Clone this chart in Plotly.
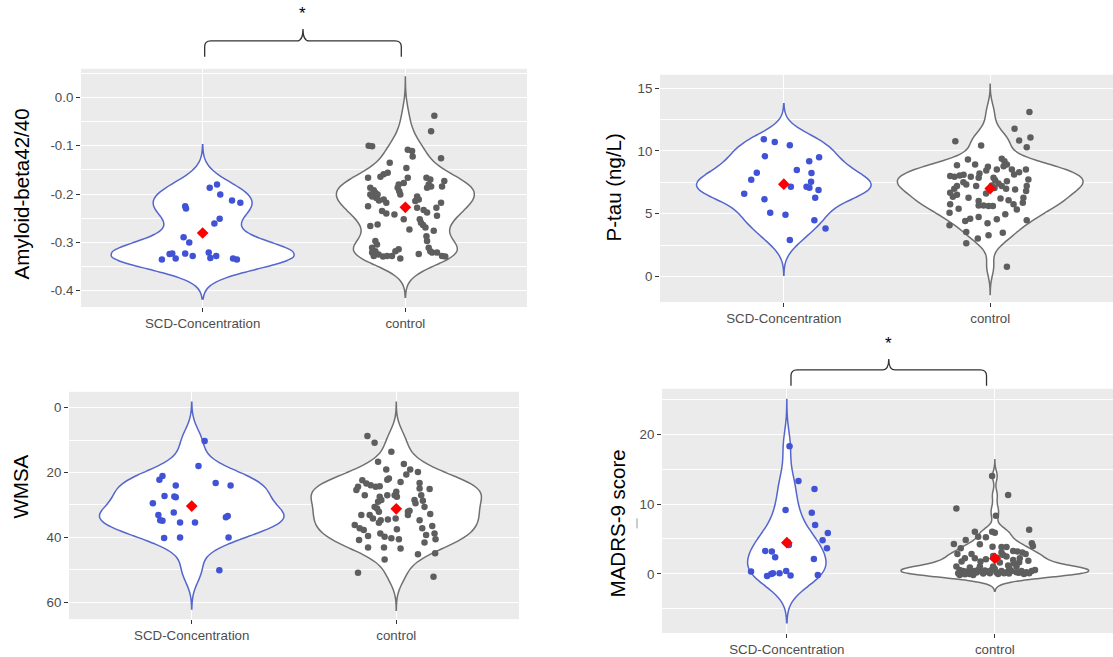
import numpy as np
import plotly.graph_objects as go

W, H = 1113, 657
categories = ["SCD-Concentration", "control"]

# ---------------- Panel 1: Amyloid-beta42/40 ----------------
amyloid_scd = [-0.335, -0.324, -0.323, -0.333, -0.323, -0.328, -0.289, -0.300, -0.225, -0.230,
               -0.187, -0.180, -0.201, -0.213, -0.218, -0.251, -0.261, -0.321, -0.332, -0.328,
               -0.333, -0.335]
amyloid_scd_jit = [-0.201, -0.163, -0.150, -0.133, -0.086, -0.049, -0.094, -0.066, -0.086, -0.082,
                   0.035, 0.071, 0.087, 0.145, 0.186, 0.084, 0.058, 0.030, 0.038, 0.067,
                   0.150, 0.169]
amyloid_ctrl = [-0.038, -0.070, -0.100, -0.101, -0.108, -0.111, -0.122, -0.126, -0.135, -0.146,
                -0.159, -0.164, -0.156, -0.166, -0.166, -0.180, -0.187, -0.194, -0.201, -0.177,
                -0.166, -0.170, -0.180, -0.184, -0.187, -0.173, -0.184, -0.187, -0.192, -0.197,
                -0.201, -0.201, -0.208, -0.213, -0.205, -0.211, -0.218, -0.225, -0.205, -0.211,
                -0.214, -0.218, -0.228, -0.228, -0.233, -0.238, -0.235, -0.240, -0.242, -0.252,
                -0.245, -0.252, -0.259, -0.264, -0.269, -0.263, -0.266, -0.273, -0.276, -0.287,
                -0.297, -0.304, -0.297, -0.311, -0.318, -0.325, -0.329, -0.321, -0.328, -0.318,
                -0.314, -0.328, -0.333, -0.328, -0.311, -0.318, -0.321, -0.324, -0.328, -0.329,
                -0.321]
amyloid_ctrl_jit = [0.143, 0.127, -0.181, -0.164, 0.012, 0.033, 0.036, 0.176, -0.077, 0.005,
                    -0.107, -0.123, -0.087, -0.184, 0.012, -0.033, -0.038, -0.030, -0.025, -0.008,
                    0.104, 0.123, 0.115, 0.127, 0.107, 0.192, 0.181, -0.173, -0.156, -0.148,
                    -0.137, -0.173, -0.143, -0.130, -0.164, -0.107, -0.094, -0.184, 0.058, 0.066,
                    0.049, 0.176, 0.153, 0.058, 0.090, 0.107, -0.115, -0.094, -0.054, -0.008,
                    0.156, 0.071, 0.077, 0.087, 0.099, -0.137, -0.173, 0.020, 0.140, 0.104,
                    -0.148, -0.140, 0.107, -0.164, -0.148, -0.132, -0.110, -0.164, -0.156, -0.049,
                    -0.033, -0.066, -0.025, -0.090, 0.115, 0.123, 0.132, 0.066, 0.181, 0.197,
                    0.156]
amyloid_ticks = [0.0, -0.1, -0.2, -0.3, -0.4]
amyloid_ticktext = ["0.0", "-0.1", "-0.2", "-0.3", "-0.4"]

# ---------------- Panel 2: P-tau ----------------
ptau_scd = [10.93, 10.71, 10.45, 9.58, 9.50, 9.18, 8.47, 8.25, 8.23, 7.70, 7.54, 7.14, 7.14,
            7.06, 6.88, 6.59, 6.27, 6.14, 5.08, 4.92, 4.47, 3.81, 2.91]
ptau_scd_jit = [-0.097, -0.044, 0.029, -0.092, 0.171, 0.123, 0.063, -0.131, 0.134, -0.158, 0.132,
                0.034, 0.110, 0.124, 0.168, -0.192, 0.152, -0.094, -0.066, 0.008, 0.148, 0.202, 0.029]
ptau_ctrl = [13.10, 11.77, 10.82, 11.06, 10.29, 10.77, 10.42, 9.31, 9.37, 9.18, 8.92, 8.78, 8.86,
             8.92, 8.73, 8.44, 8.52, 8.52, 8.12, 8.52, 7.99, 7.94, 8.04, 8.10, 7.94, 8.20, 7.86,
             7.86, 7.67, 7.59, 7.72, 7.20, 6.98, 6.67, 6.35, 6.51, 7.33, 7.20, 7.25, 7.04, 7.41,
             7.20, 6.98, 6.93, 7.20, 6.80, 6.27, 6.01, 5.66, 5.66, 5.61, 5.61, 6.06, 5.74, 6.27,
             5.87, 5.74, 5.08, 5.40, 4.95, 5.34, 4.42, 4.60, 4.74, 4.55, 4.23, 4.47, 4.07, 3.54,
             3.02, 3.28, 3.49, 2.65, 0.77, 6.60, 7.50, 6.20, 8.30]
ptau_ctrl_jit = [0.190, 0.118, 0.140, 0.195, 0.177, -0.169, -0.044, -0.108, 0.056, 0.069, 0.081,
                 0.065, -0.161, -0.073, -0.011, -0.019, 0.032, 0.105, 0.116, 0.173, -0.194, -0.173,
                 -0.148, -0.129, -0.094, -0.052, -0.056, 0.016, 0.024, 0.081, 0.185, -0.161, -0.174,
                 -0.194, -0.181, -0.161, -0.116, -0.068, 0.008, 0.021, 0.040, 0.056, 0.077, 0.121,
                 0.177, 0.174, -0.105, -0.056, -0.056, -0.032, -0.008, 0.013, 0.089, 0.113, 0.161,
                 0.158, -0.194, -0.197, -0.153, 0.073, 0.129, -0.121, -0.097, -0.056, 0.032, -0.013,
                 0.177, -0.197, -0.116, -0.060, -0.008, 0.061, -0.116, 0.081, -0.020, -0.130, 0.050,
                 0.140]
ptau_ticks = [0, 5, 10, 15]
ptau_ticktext = ["0", "5", "10", "15"]

# ---------------- Panel 3: WMSA ----------------
wmsa_scd = [10.3, 18.0, 21.1, 22.2, 24.0, 23.2, 24.0, 27.2, 27.6, 27.4, 29.5, 33.1, 34.7, 34.9,
            32.3, 35.4, 35.4, 33.4, 33.8, 40.2, 40.0, 40.0, 50.1]
wmsa_scd_jit = [0.063, 0.033, -0.143, -0.158, -0.078, 0.117, 0.190, -0.133, -0.078, -0.085, -0.190,
                -0.163, -0.154, -0.143, -0.088, -0.057, 0.016, 0.176, 0.167, -0.135, -0.057, 0.180,
                0.135]
wmsa_ctrl = [8.7, 10.8, 13.6, 16.7, 17.4, 19.1, 19.8, 19.1, 20.6, 21.8, 22.2, 23.2, 22.9, 22.4,
             23.4, 23.9, 24.4, 24.2, 24.4, 25.4, 25.1, 24.9, 25.9, 27.0, 27.5, 27.0, 27.5, 28.5,
             29.0, 27.0, 27.0, 28.5, 29.5, 28.7, 30.6, 30.6, 31.1, 32.1, 33.1, 34.2, 33.1, 34.5,
             34.2, 32.1, 31.8, 33.1, 32.8, 36.2, 37.2, 37.7, 39.6, 40.8, 34.7, 35.5, 34.7, 37.2,
             39.3, 36.5, 38.8, 40.6, 37.5, 38.8, 39.8, 40.3, 40.6, 41.6, 43.1, 43.1, 43.4, 45.2,
             44.9, 46.8, 50.9, 52.1]
wmsa_ctrl_jit = [-0.141, -0.106, -0.024, -0.089, 0.037, 0.068, 0.106, -0.049, 0.049, -0.036, -0.044,
                 0.114, 0.021, -0.166, -0.146, -0.125, -0.101, -0.081, -0.187, -0.195, 0.163, 0.114,
                 0.000, -0.008, 0.003, -0.044, -0.081, -0.073, -0.089, -0.154, 0.122, 0.089, 0.094,
                 0.130, 0.138, -0.106, -0.094, -0.085, -0.130, -0.114, -0.171, -0.041, -0.003, 0.057,
                 0.065, 0.057, 0.166, -0.203, -0.179, -0.159, -0.138, -0.182, -0.076, -0.085, 0.114,
                 0.127, 0.146, 0.176, 0.187, 0.192, 0.003, -0.078, -0.057, -0.024, 0.013, 0.138,
                 -0.138, -0.060, 0.021, 0.106, 0.190, -0.057, -0.187, 0.182]
wmsa_ticks = [0, 20, 40, 60]
wmsa_ticktext = ["0", "20", "40", "60"]

# ---------------- Panel 4: MADRS-9 ----------------
madrs_scd = [18.29, 13.29, 12.14, 9.14, 8.76, 7.00, 5.86, 4.81, 3.67, 4.14, 4.52, 2.14, 3.29, 3.19,
             2.38, 0.33, -0.29, 0.00, 0.10, 0.10, 0.43, -0.24, -0.14]
madrs_scd_jit = [0.013, 0.056, 0.133, -0.006, 0.120, 0.136, 0.197, 0.172, 0.193, 0.010, 0.005, 0.130,
                 -0.104, -0.072, -0.056, -0.172, -0.095, -0.075, -0.067, -0.035, -0.003, 0.018, 0.149]
madrs_ctrl = [14.00, 11.29, 9.38, 8.33, 6.33, 6.05, 4.86, 5.33, 5.24, 6.05, 5.90, 4.29, 4.38, 4.00,
              3.67, 2.86, 4.24, 3.90, 3.86, 3.86, 3.29, 3.19, 3.05, 2.86, 3.10, 2.71, 2.86, 2.24,
              2.24, 1.76, 1.76, 2.10, 2.57, 2.33, 2.48, 2.00, 1.52, 1.90, 2.24, 1.67, 1.62, 1.05,
              0.57, 0.43, 0.33, 0.24, 0.43, 0.57, 0.33, 0.48, 0.33, -0.14, -0.05, -0.14, 0.57, 0.19,
              0.43, 0.24, 0.43, 0.24, 0.43, 0.24, 0.43, 0.57, 1.05, 1.19, 1.05, 1.05, 0.90, 0.10,
              0.00, 0.20, 0.05, 0.10, 0.00, 0.10, 0.05, 0.15, 0.00, 0.10, 0.30, 0.70, 0.80]
madrs_ctrl_jit = [-0.013, 0.064, -0.185, 0.005, 0.165, -0.096, -0.140, -0.080, -0.043, -0.013, 0.000,
                  -0.197, 0.178, 0.183, -0.164, -0.180, -0.072, -0.011, 0.032, 0.056, 0.088, 0.109,
                  0.132, 0.148, 0.032, 0.040, -0.112, -0.096, -0.144, -0.160, -0.069, -0.043, -0.008,
                  0.013, 0.056, 0.088, 0.091, 0.161, 0.120, 0.117, 0.024, -0.185, -0.169, -0.152,
                  -0.133, -0.112, -0.096, -0.080, -0.064, -0.048, -0.032, -0.169, -0.144, -0.104,
                  -0.016, 0.008, 0.032, 0.056, 0.080, 0.104, 0.128, 0.152, 0.177, 0.193, -0.008,
                  0.064, 0.104, -0.072, -0.120, -0.176, -0.122, -0.088, -0.056, -0.024, 0.016, 0.044,
                  0.068, 0.116, 0.140, 0.165, -0.040, 0.000, 0.070]
madrs_ticks = [0, 10, 20]
madrs_ticktext = ["0", "10", "20"]

titles = ["Amyloid-beta42/40", "P-tau (ng/L)", "WMSA", "MADRS-9 score"]

# ---------------- styling ----------------
BLUE_PT, BLUE_LN = "#4052D6", "#5566CC"
GRAY_PT, GRAY_LN = "#5E5E5E", "#707070"
TICK_FONT = dict(family="Liberation Sans, Arial, sans-serif", size=13.3, color="#4D4D4D")
TITLE_FONT = dict(family="Liberation Sans, Arial, sans-serif", size=20.5, color="black")


def px_x(p):
    return p / W


def px_y(p):
    return 1 - p / H


def bw_nrd0(v):
    v = np.asarray(v, float)
    sd = v.std(ddof=1)
    q75, q25 = np.percentile(v, [75, 25])
    lo = min(sd, (q75 - q25) / 1.34)
    return 0.9 * lo * len(v) ** -0.2


panels = [
    dict(scd=amyloid_scd, scdj=amyloid_scd_jit, ctl=amyloid_ctrl, ctlj=amyloid_ctrl_jit,
         ticks=amyloid_ticks, ticktext=amyloid_ticktext,
         minor=[0.05, -0.05, -0.15, -0.25, -0.35],
         xpx=(81, 527), ypx=(69, 308), xr=[-0.6, 1.6], yr=[-0.4336, 0.0592],
         widths=(0.90, 0.68), title_xy=(21, 195)),
    dict(scd=ptau_scd, scdj=ptau_scd_jit, ctl=ptau_ctrl, ctlj=ptau_ctrl_jit,
         ticks=ptau_ticks, ticktext=ptau_ticktext,
         minor=[-2.5, 2.5, 7.5, 12.5],
         xpx=(660, 1113), ypx=(75, 303), xr=[-0.6, 1.595], yr=[-2.04, 16.06],
         widths=(0.846, 0.90), title_xy=(613, 188)),
    dict(scd=wmsa_scd, scdj=wmsa_scd_jit, ctl=wmsa_ctrl, ctlj=wmsa_ctrl_jit,
         ticks=wmsa_ticks, ticktext=wmsa_ticktext,
         minor=[10, 30, 50],
         xpx=(69, 519), ypx=(393, 621), xr=[-0.6, 1.6], yr=[65.2, -4.9],
         widths=(0.90, 0.832), title_xy=(21, 488)),
    dict(scd=madrs_scd, scdj=madrs_scd_jit, ctl=madrs_ctrl, ctlj=madrs_ctrl_jit,
         ticks=madrs_ticks, ticktext=madrs_ticktext,
         minor=[-5, 5, 15, 25],
         xpx=(662, 1113), ypx=(390, 635), xr=[-0.6, 1.568], yr=[-8.47, 26.5],
         widths=(0.376, 0.90), title_xy=(617, 525)),
]

fig = go.Figure()
layout = dict(width=W, height=H, margin=dict(l=0, r=0, t=0, b=0),
              paper_bgcolor="white", plot_bgcolor="#EBEBEB",
              violinmode="overlay", showlegend=False, annotations=[], shapes=[])

for i, p in enumerate(panels, start=1):
    xa = "x" if i == 1 else f"x{i}"
    ya = "y" if i == 1 else f"y{i}"
    groups = [(0, p["scd"], p["scdj"], BLUE_PT, BLUE_LN, p["widths"][0]),
              (1, p["ctl"], p["ctlj"], GRAY_PT, GRAY_LN, p["widths"][1])]
    for pos, vals, jit, cpt, cln, wv in groups:
        vals = np.asarray(vals, float)
        bw = bw_nrd0(vals)
        fig.add_trace(go.Violin(
            x0=pos, y=vals, xaxis=xa, yaxis=ya, bandwidth=bw,
            spanmode="manual", span=[vals.min() - 3 * bw, vals.max() + 3 * bw],
            width=wv, scalemode="width", fillcolor="white",
            line=dict(color=cln, width=1.5), points=False, hoverinfo="skip",
            showlegend=False))
        fig.add_trace(go.Scatter(
            x=pos + np.asarray(jit, float), y=vals, xaxis=xa, yaxis=ya, mode="markers",
            marker=dict(size=6.5, color=cpt, line=dict(width=0)), hoverinfo="skip"))
    for pos, vals in [(0, p["scd"]), (1, p["ctl"])]:
        fig.add_trace(go.Scatter(
            x=[pos], y=[float(np.mean(vals))], xaxis=xa, yaxis=ya, mode="markers",
            marker=dict(symbol="diamond", size=9, color="#FF0000", line=dict(width=0)),
            hoverinfo="skip"))

    x0, x1 = p["xpx"]
    y0, y1 = p["ypx"]
    kx = "xaxis" if i == 1 else f"xaxis{i}"
    ky = "yaxis" if i == 1 else f"yaxis{i}"
    layout[kx] = dict(domain=[px_x(x0), px_x(x1)], anchor=ya, range=p["xr"],
                      tickmode="array", tickvals=[0, 1], ticktext=categories,
                      showgrid=True, gridcolor="white", gridwidth=1.4, zeroline=False,
                      showline=False, ticks="outside", ticklen=4, tickwidth=1,
                      tickcolor="#333333", tickfont=TICK_FONT, fixedrange=True)
    layout[ky] = dict(domain=[px_y(y1), px_y(y0)], anchor=xa, range=p["yr"],
                      tickmode="array", tickvals=p["ticks"], ticktext=p["ticktext"],
                      showgrid=True, gridcolor="white", gridwidth=1.4, zeroline=False,
                      showline=False, ticks="outside", ticklen=4, tickwidth=1,
                      tickcolor="#333333", tickfont=TICK_FONT, fixedrange=True,
                      minor=dict(tickmode="array", tickvals=p["minor"], showgrid=True,
                                 gridcolor="white", gridwidth=0.7, ticks=""))
    tx, ty = p["title_xy"]
    layout["annotations"].append(dict(
        text=titles[i - 1], x=px_x(tx), y=px_y(ty), xref="paper", yref="paper",
        textangle=-90, showarrow=False, font=TITLE_FONT, xanchor="center", yanchor="middle"))


def brace(xref, xa, xb, yb, yh, ytop, rx, ry):
    xm = (xa + xb) / 2
    path = (f"M {xa},{yb} L {xa},{yh - ry} Q {xa},{yh} {xa + rx},{yh} "
            f"L {xm - rx},{yh} Q {xm},{yh} {xm},{ytop} "
            f"Q {xm},{yh} {xm + rx},{yh} L {xb - rx},{yh} "
            f"Q {xb},{yh} {xb},{yh - ry} L {xb},{yb}")
    return dict(type="path", path=path, xref=xref, yref="paper",
                line=dict(color="#333333", width=1.3))


# significance brackets (panel 1 and panel 4)
layout["shapes"].append(brace("x", 0.01, 0.98, px_y(57), px_y(41), px_y(29), 0.03, 6 / H))
layout["shapes"].append(brace("x4", 0.02, 0.96, px_y(387), px_y(371), px_y(360), 0.03, 6 / H))
for xr_, xv, yv in [("x", 0.495, 14), ("x4", 0.49, 345)]:
    layout["annotations"].append(dict(
        text="*", x=xv, y=px_y(yv), xref=xr_, yref="paper", showarrow=False,
        font=dict(family="Liberation Sans, Arial, sans-serif", size=17, color="black"),
        xanchor="center", yanchor="middle"))

# small stray mark beside the MADRS-9 title
layout["shapes"].append(dict(type="line", xref="paper", yref="paper",
                             x0=px_x(637), x1=px_x(637), y0=px_y(520), y1=px_y(530),
                             line=dict(color="#999999", width=1)))

fig.update_layout(**layout)
fig.write_html("out.html")
